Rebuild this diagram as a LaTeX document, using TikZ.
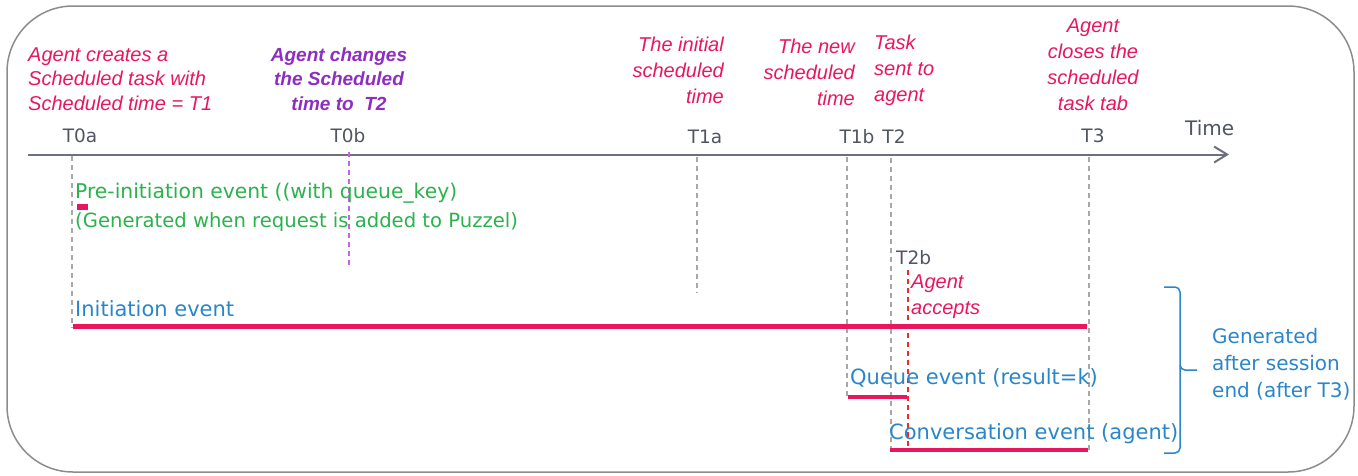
\documentclass[tikz,border=0pt]{standalone}
\usepackage{fontspec}
\setmainfont{DejaVu Sans}
\newfontfamily\annfont{Liberation Sans}
\usetikzlibrary{arrows.meta}
\definecolor{pinkc}{HTML}{E8175D}
\definecolor{purpc}{HTML}{8E2EC0}
\definecolor{purpl}{HTML}{C463E6}
\definecolor{greenc}{HTML}{2BB24C}
\definecolor{bluec}{HTML}{2A86C8}
\definecolor{graytxt}{HTML}{50555F}
\definecolor{axisc}{HTML}{6C717C}
\definecolor{dashc}{HTML}{A8A8A8}
\definecolor{redc}{HTML}{EE2A2A}
\definecolor{borderc}{HTML}{8C8C8C}
\begin{document}
\begin{tikzpicture}[x=1pt,y=-1pt,
  ann/.style={font=\annfont\itshape\fontsize{20}{26}\selectfont, text=pinkc, inner sep=0pt},
  annb/.style={font=\annfont\bfseries\itshape\fontsize{19}{24.5}\selectfont, text=purpc, inner sep=0pt},
  ticklab/.style={font=\fontsize{18.5}{22}\selectfont, text=graytxt, inner sep=0pt},
  evt/.style={font=\fontsize{21}{29}\selectfont, inner sep=0pt},
  vdash/.style={draw=dashc, line width=1.2pt, dash pattern=on 5pt off 4pt},
  bar/.style={draw=pinkc, line width=4.5pt},
  axis/.style={draw=axisc, line width=2pt, -{Straight Barb[length=13pt,width=16pt,line width=2pt]}}
]
\useasboundingbox (0,0) rectangle (1358,475);
% frame
\draw[borderc, line width=1.5pt, rounded corners=66pt] (7,6) rectangle (1354,472);

% time axis
\coordinate (axS) at (28,154.5);
\coordinate (axE) at (1229,154.5);
\draw[axis] (axS) -- (axE);
\node[ticklab, anchor=base west, font=\fontsize{20}{24}\selectfont] (time) at (1185,135) {Time};

% tick labels
\node[ticklab, anchor=base] (T0a) at (80,142) {T0a};
\node[ticklab, anchor=base] (T0b) at (348,142) {T0b};
\node[ticklab, anchor=base] (T1a) at (705,143) {T1a};
\node[ticklab, anchor=base] (T1b) at (857,143) {T1b};
\node[ticklab, anchor=base] (T2) at (894,143) {T2};
\node[ticklab, anchor=base] (T3) at (1093,142) {T3};
\node[ticklab, anchor=base west] (T2b) at (896,264) {T2b};

% annotations
\node[ann, align=left, anchor=west, font=\annfont\itshape\fontsize{20}{24.5}\selectfont] (a1) at (28,79) {Agent creates a\\Scheduled task with\\Scheduled time = T1};
\node[annb, align=center] (a2) at (339,79) {Agent changes\\the Scheduled\\time to\ \ T2};
\node[ann, align=right, anchor=east] (a3) at (724,70) {The initial\\scheduled\\time};
\node[ann, align=right, anchor=east] (a4) at (855,72) {The new\\scheduled\\time};
\node[ann, align=left, anchor=west] (a5) at (874,70) {Task\\sent to\\agent};
\node[ann, align=center] (a6) at (1093,65) {Agent\\closes the\\scheduled\\task tab};
\node[ann, align=left, anchor=west] (a7) at (911,297) {Agent\\accepts};

% dashed guides
\coordinate (g0a1) at (72,156); \coordinate (g0a2) at (72,328);
\coordinate (g0b1) at (349,152); \coordinate (g0b2) at (349,265);
\coordinate (g1a1) at (697,157); \coordinate (g1a2) at (697,293);
\coordinate (g1b1) at (847,157); \coordinate (g1b2) at (847,398);
\coordinate (g21) at (891,158); \coordinate (g22) at (891,451);
\coordinate (g31) at (1089,157); \coordinate (g32) at (1089,451);
\coordinate (g2b1) at (908,270); \coordinate (g2b2) at (908,451);
\draw[vdash] (g0a1) -- (g0a2);
\draw[vdash, draw=purpl] (g0b1) -- (g0b2);
\draw[vdash] (g1a1) -- (g1a2);
\draw[vdash] (g1b1) -- (g1b2);
\draw[vdash] (g21) -- (g22);
\draw[vdash] (g31) -- (g32);
\draw[vdash, draw=redc] (g2b1) -- (g2b2);

% pre-initiation
\node[evt, text=greenc, anchor=base west, font=\fontsize{20.3}{29}\selectfont] (pre1) at (75,198) {Pre-initiation event ((with queue\_key)};
\node[evt, text=greenc, anchor=base west, font=\fontsize{19.6}{29}\selectfont] (pre2) at (75,227) {(Generated when request is added to Puzzel)};
\node[fill=pinkc, minimum width=11pt, minimum height=6pt, inner sep=0pt] (mk) at (82.5,207) {};

% initiation
\node[evt, text=bluec, anchor=base west] (init) at (75,316) {Initiation event};
\coordinate (i1) at (73,326.5); \coordinate (i2) at (1087,326.5);
\draw[bar] (i1) -- (i2);

% queue
\node[evt, text=bluec, anchor=base west] (queue) at (850,384) {Queue event (result=k)};
\coordinate (q1) at (848,397); \coordinate (q2) at (907,397);
\draw[bar] (q1) -- (q2);

% conversation
\node[evt, text=bluec, anchor=base west] (conv) at (889,439) {Conversation event (agent)};
\coordinate (c1) at (890,450); \coordinate (c2) at (1088,450);
\draw[bar] (c1) -- (c2);

% brace
\coordinate (bt) at (1164,287); \coordinate (bb) at (1164,453); \coordinate (bm) at (1197,370);
\draw[bluec, line width=1.5pt, rounded corners=5pt] (bt) -- (1180,287) -- (1180,370) -- (bm);
\draw[bluec, line width=1.5pt, rounded corners=5pt] (1180,365) -- (1180,453) -- (bb);
\node[evt, text=bluec, align=left, anchor=west, font=\fontsize{20}{27}\selectfont] (gen) at (1212,364) {Generated\\after session\\end (after T3)};
\end{tikzpicture}
\end{document}
